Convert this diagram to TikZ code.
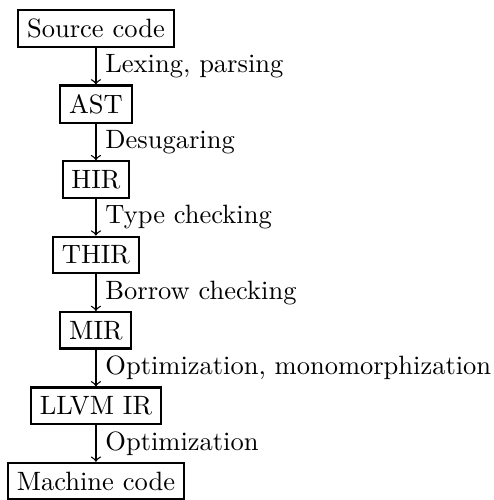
\documentclass[tikz,border=0pt]{standalone}
\begin{document}
\begin{tikzpicture}[x=1pt,y=1pt,
  stage/.style={draw, line width=0.8pt},
  flow/.style={->, line width=0.5pt},
  lbl/.style={midway, right}]
\useasboundingbox (0,0) rectangle (186.4,-188.7);
\def\ax{36.2}
\node[stage] (src) at (\ax,-10.85) {Source code};
\node[stage] (ast) at (\ax,-39.3) {AST};
\node[stage] (hir) at (\ax,-67.75) {HIR};
\node[stage] (thir) at (\ax,-96.2) {THIR};
\node[stage] (mir) at (\ax,-124.65) {MIR};
\node[stage] (llvm) at (\ax,-153.1) {LLVM IR};
\node[stage] (mc) at (\ax,-181.55) {Machine code};
\draw[flow] (src) -- node[lbl] {Lexing, parsing} (ast);
\draw[flow] (ast) -- node[lbl] {Desugaring} (hir);
\draw[flow] (hir) -- node[lbl] {Type checking} (thir);
\draw[flow] (thir) -- node[lbl] {Borrow checking} (mir);
\draw[flow] (mir) -- node[lbl] {Optimization, monomorphization} (llvm);
\draw[flow] (llvm) -- node[lbl] {Optimization} (mc);
\end{tikzpicture}
\end{document}
